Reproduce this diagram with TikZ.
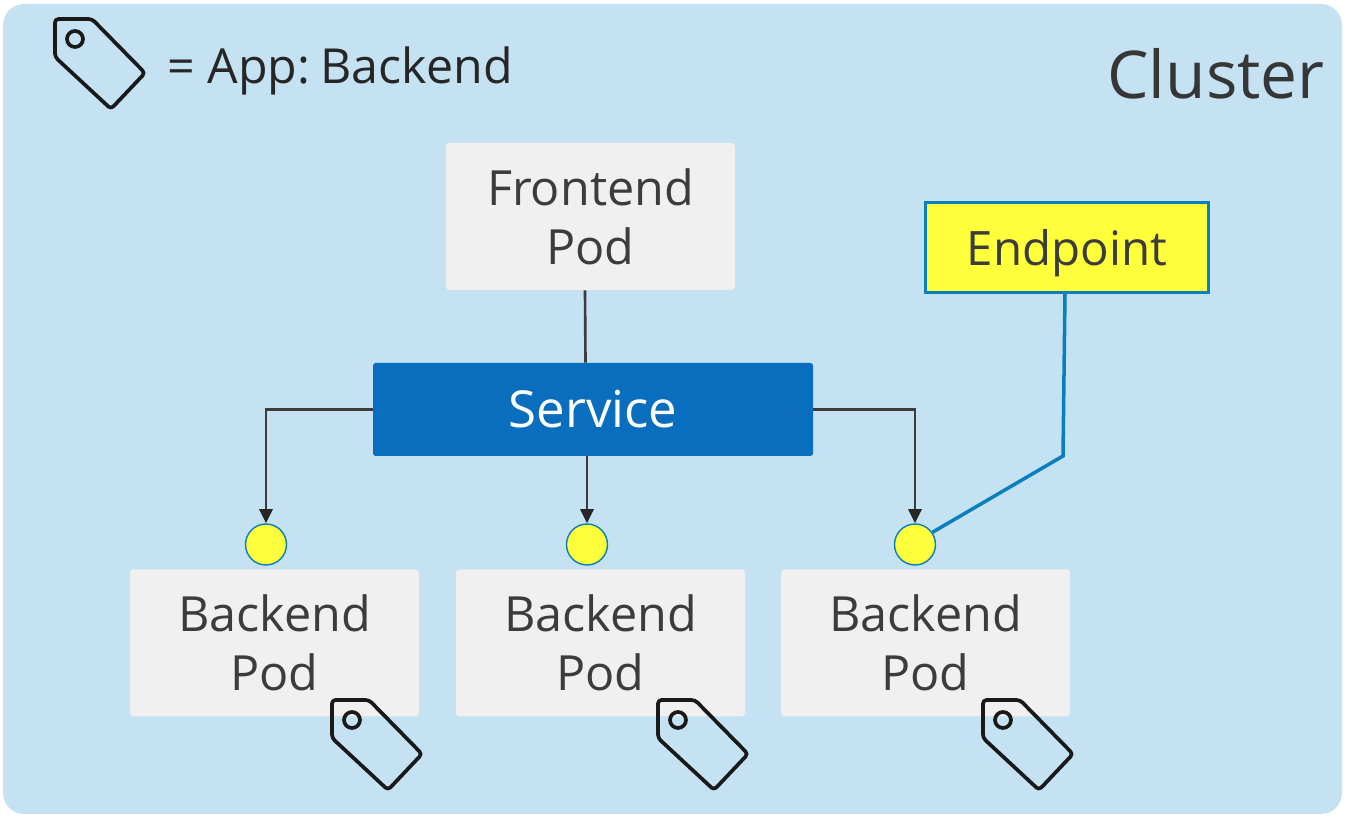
\documentclass[tikz,border=0pt]{standalone}
\usepackage{fontspec}
\setmainfont{Open Sans}
\usetikzlibrary{arrows.meta}
\def\u{0.02cm}
\definecolor{clusterbg}{HTML}{C5E2F3}
\definecolor{podbg}{HTML}{F0F0F0}
\definecolor{svcblue}{HTML}{0A6EBF}
\definecolor{epblue}{HTML}{0A7FBE}
\definecolor{dotyellow}{HTML}{FFFF3B}
\definecolor{inkdark}{HTML}{3C3C3C}
\tikzset{
  x=0.02cm,y=-0.02cm,
  box/.style={minimum width=#1,inner sep=0pt,align=center,font=\fontsize{27.6}{33.5}\selectfont,text=inkdark},
  podbox/.style={box=289*\u,minimum height=147*\u,fill=podbg,rounded corners=2pt},
  svcbox/.style={box=440*\u,minimum height=93*\u,fill=svcblue,text=white,rounded corners=1.5pt,font=\fontsize{29}{33.5}\selectfont},
  epbox/.style={box=283*\u,minimum height=90*\u,fill=dotyellow,draw=epblue,line width=1.6pt,font=\fontsize{27}{33.5}\selectfont},
  portdot/.style={circle,minimum size=41*\u,inner sep=0pt,fill=dotyellow,draw=epblue,line width=0.8pt},
  link/.style={draw=inkdark,line width=1.5pt},
  arrowlink/.style={link,-{Triangle[length=8pt,width=7.5pt,color=black!85]}},
  eplink/.style={draw=epblue,line width=2pt,line join=miter},
  tagline/.style={draw=black!90,line width=2.1pt,line join=round}
}
\newcommand{\tagshape}[2]{%
  \begin{scope}[shift={(#1,#2)}]
    \draw[tagline,rounded corners=2pt] (0,38) -- (0,0) -- (37,0) -- (90,54) -- (56,90) -- cycle;
    \draw[tagline] (20,20) circle (8);
  \end{scope}}
\begin{document}
\begin{tikzpicture}
\useasboundingbox (0,0) rectangle (1350,820);
\fill[white] (0,0) rectangle (1350,820);
\fill[clusterbg,rounded corners=12pt] (3,4) rectangle (1342,814);

\node[anchor=base west,inner sep=0pt,font=\fontsize{37.5}{42}\selectfont,text=inkdark!90!black] (clusterlabel) at (1107,99) {Cluster};
\node[anchor=base west,inner sep=0pt,font=\fontsize{27.5}{30}\selectfont,text=black!85] (legend) at (167,84) {= App:\hspace{-0.13em} Backend};

\node[podbox] (front) at (590.5,216.5) {Frontend\\Pod};
\node[epbox] (endpoint) at (1067,247.5) {\raisebox{-3.2pt}[\height][\depth]{Endpoint}};
\node[svcbox] (service) at (593,409.5) {Service};
\node[podbox] (pod1) at (274.5,643) {Backend\\Pod};
\node[podbox] (pod2) at (600.5,643) {Backend\\Pod};
\node[podbox] (pod3) at (925.5,643) {Backend\\Pod};
\node[portdot] (dot1) at (266,544.5) {};
\node[portdot] (dot2) at (587,544.5) {};
\node[portdot] (dot3) at (915,544.5) {};

\draw[link] ([xshift=-5.5*\u]front.south) -- ([xshift=-7.5*\u]service.north);
\draw[arrowlink] (service.west) -| (dot1.north);
\draw[arrowlink] (service.south -| dot2.north) -- (dot2.north);
\draw[arrowlink] (service.east) -| (dot3.north);
\coordinate (bend) at (1063,456);
\draw[eplink] ([xshift=-2*\u]endpoint.south) -- (bend) -- (dot3.35);

\tagshape{55}{19}
\tagshape{332}{700}
\tagshape{658}{700}
\tagshape{983}{700}
\end{tikzpicture}
\end{document}
